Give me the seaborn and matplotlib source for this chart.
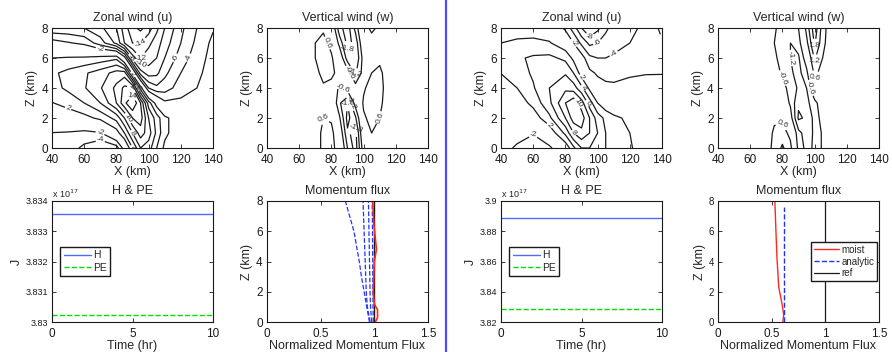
import numpy as np
import matplotlib
matplotlib.use('Agg')
import matplotlib.pyplot as plt
from matplotlib.lines import Line2D
from matplotlib.ticker import FuncFormatter
import seaborn as sns

# Rejillas (km)
x_u = [40, 50, 60, 70, 80, 85, 90, 95, 100, 105, 110, 120, 130, 140]
x_w = [40, 60, 70, 75, 80, 85, 90, 95, 100, 105, 110, 120, 140]
z_grid = [0, 1, 2, 3, 4, 5, 6, 7, 8]

# Viento zonal, caso izquierdo (filas z=0..8)
u_left = [
    [-2.5, -3.0, -4.5, -6.0, -5.0, -1.0, 4.0, 8.0, 7.0, 4.0, 1.5, 0.5, 0.0, -0.3],
    [-2.05, -2.2, -2.6, -2.2, 1.0, 4.0, 8.0, 11.0, 9.0, 5.5, 2.5, 0.5, 0.0, -0.3],
    [0.0, 0.6, 1.3, 2.5, 4.7, 8.0, 12.0, 13.0, 8.0, 5.0, 2.5, 0.5, -0.2, -0.5],
    [1.9, 2.8, 4.0, 6.0, 10.0, 13.5, 16.0, 12.0, 5.0, 1.0, -1.5, -1.5, -1.0, -0.3],
    [3.3, 4.4, 5.8, 7.8, 10.5, 12.5, 12.0, 3.0, -4.0, -5.5, -5.0, -3.0, -2.0, -0.5],
    [3.6, 4.6, 5.7, 7.0, 8.8, 9.0, 1.0, -7.0, -9.0, -8.5, -6.5, -4.0, -2.5, -1.0],
    [2.0, 2.2, 2.3, 2.8, 3.5, -1.0, -9.0, -12.0, -11.0, -10.0, -8.0, -5.0, -3.0, -1.2],
    [-1.0, -1.8, -2.5, -5.0, -8.5, -12.0, -14.0, -14.0, -12.5, -11.0, -9.0, -6.0, -3.5, -1.5],
    [-5.5, -5.5, -6.0, -7.5, -10.0, -13.0, -15.5, -16.5, -15.0, -12.5, -10.0, -6.5, -4.0, -2.2],
]

# Viento zonal, caso derecho
u_right = [
    [-1.5, -2.2, -2.8, -2.5, 0.5, 3.5, 6.0, 6.0, 5.0, 4.0, 3.0, 2.2, 1.0, 0.0],
    [-1.0, -1.5, -1.9, 0.5, 4.5, 8.0, 9.5, 8.0, 6.0, 4.0, 3.0, 2.0, 0.5, -0.2],
    [-0.5, -0.2, 0.8, 3.5, 8.0, 11.0, 11.0, 8.0, 5.0, 3.5, 2.5, 1.5, 0.3, -0.3],
    [0.0, 0.8, 2.6, 5.5, 10.0, 11.5, 9.0, 5.0, 2.0, 0.5, 0.0, -0.3, -0.5, -0.5],
    [1.0, 2.0, 3.8, 6.0, 7.5, 7.0, 4.5, 1.5, -1.0, -1.6, -1.7, -1.5, -1.2, -1.0],
    [2.05, 3.0, 4.3, 5.5, 5.8, 4.0, 1.0, -1.5, -2.3, -2.5, -2.5, -2.2, -2.1, -2.1],
    [3.0, 3.7, 4.3, 4.5, 3.5, 1.5, -1.0, -3.5, -4.0, -4.0, -3.8, -3.3, -2.7, -2.5],
    [2.0, 2.3, 2.5, 2.2, 0.5, -2.0, -4.5, -6.5, -6.0, -5.0, -4.5, -4.0, -3.0, -2.2],
    [1.0, 1.2, 1.0, 0.5, -2.5, -5.0, -8.0, -10.0, -8.5, -6.5, -5.0, -4.5, -3.5, -1.5],
]

# Viento vertical, caso izquierdo
w_left = [
    [0, 0.1, 0.4, 0.7, 0.8, 0.3, -1.2, -2.1, -0.2, 0.4, 0.3, 0.1, 0],
    [0, 0.1, 0.4, 0.7, 0.8, 0.0, -1.7, -2.0, 0.2, 0.6, 0.45, 0.1, 0],
    [0, 0.05, 0.3, 0.6, 0.5, -0.5, -2.0, -1.3, 0.5, 0.8, 0.6, 0.1, 0],
    [0, 0.05, 0.2, 0.5, 0.2, -1.1, -1.8, -0.3, 0.7, 0.9, 0.7, 0.1, 0],
    [0, 0.05, 0.2, 0.5, 0.3, -0.8, -0.3, -0.3, 0.5, 0.9, 0.75, 0.1, 0],
    [0, 0.1, 0.4, 0.8, 0.8, 0.3, -0.3, -1.3, -0.3, 0.6, 0.7, 0.1, 0],
    [0, 0.1, 0.6, 0.9, 0.7, 0.0, -1.5, -1.8, -0.3, 0.4, 0.5, 0.1, 0],
    [0, 0.1, 0.6, 0.8, 0.4, -0.8, -2.0, -1.6, 0.1, 0.4, 0.4, 0.1, 0],
    [0, 0.1, 0.3, 0.5, 0.1, -1.6, -2.1, -1.0, 0.4, 0.7, 0.5, 0.1, 0],
]

# Viento vertical, caso derecho
w_right = [
    [0, 0, 0.3, 0.8, 1.3, 0.8, -0.8, -1.4, -1.1, -0.5, 0, 0, 0],
    [0, 0, 0.3, 0.7, 0.9, 0.4, -1.0, -1.5, -1.1, -0.5, 0, 0, 0],
    [0, 0, 0.2, 0.5, 0.4, -0.3, -1.9, -1.7, -1.0, -0.3, 0, 0, 0],
    [0, 0, 0.1, 0.2, -0.1, -0.7, -1.7, -1.4, -0.8, -0.2, 0, 0, 0],
    [0, 0, 0, -0.1, -0.4, -0.8, -1.3, -1.2, 0.1, 0.0, 0, 0, 0],
    [0, 0, -0.1, -0.3, -0.7, -1.1, -1.4, -0.8, 0.8, 0.3, 0.0, 0, 0],
    [0, 0, -0.2, -0.5, -0.8, -1.2, -1.3, -0.2, 1.3, 0.6, 0.1, 0, 0],
    [0, 0, -0.3, -0.6, -0.9, -1.2, -0.9, 0.4, 1.9, 0.8, 0.2, 0, 0],
    [0, 0, -0.2, -0.5, -0.9, -1.1, -0.6, 0.8, 2.2, 0.9, 0.2, 0, 0],
]

u_levels = [-16, -14, -12, -10, -8, -6, -4, -2, 2, 4, 6, 8, 10, 12, 14, 16]
w_levels = [-2.4, -1.8, -1.2, -0.6, 0.6, 1.2, 1.8, 2.4]

# Energia (J) frente al tiempo
t_hr = [0, 10]
h_left = [3.83357e17, 3.83357e17]
pe_left = [3.83022e17, 3.83022e17]
h_right = [3.8889e17, 3.8889e17]
pe_right = [3.8289e17, 3.8289e17]

# Flujo de momento normalizado
z_prof = [0, 1, 2, 3, 4, 5, 6, 7, 8]
analytic_a = [0.955, 0.93, 0.905, 0.88, 0.86, 0.835, 0.81, 0.77, 0.73]
analytic_b = [0.96, 0.935, 0.925, 0.92, 0.915, 0.91, 0.905, 0.90, 0.895]
analytic_c = [0.975, 0.965, 0.96, 0.958, 0.955, 0.953, 0.95, 0.948, 0.945]
analytic_d = [0.99, 0.988, 0.987, 0.986, 0.985, 0.984, 0.983, 0.982, 0.98]
z_moist_l = [0, 0.3, 0.8, 1.2, 2, 3, 4, 4.8, 5.5, 6.5, 8]
moist_l = [1.01, 1.03, 1.03, 1.0, 0.99, 0.995, 1.0, 1.02, 1.01, 0.995, 0.985]
z_moist_r = [0, 0.5, 1.2, 2.3, 4.2, 6, 8]
moist_r = [0.605, 0.612, 0.597, 0.566, 0.55, 0.54, 0.53]
z_analytic_r = [0, 7.6]
analytic_r = [0.612, 0.612]
z_ref = [0, 8]
ref_flux = [1, 1]

sns.set_theme(style='ticks')
plt.rcParams['font.family'] = ['Liberation Sans', 'DejaVu Sans']
plt.rcParams['contour.negative_linestyle'] = 'solid'

fig = plt.figure(figsize=(8.92, 3.52), dpi=100)
lefts = [0.0583, 0.2993, 0.5617, 0.8049]
ancho = 0.1805


def estilo(ax, size=8.5):
    ax.tick_params(direction='in', top=True, right=True, length=3, width=0.6,
                   labelsize=size, colors='k')
    ax.tick_params(axis='x', pad=4)
    ax.tick_params(axis='y', pad=3)
    for s in ax.spines.values():
        s.set_linewidth(0.8)
        s.set_color('k')


def panel_contorno(left, campo, x, levels, titulo):
    ax = fig.add_axes([left, 0.5795, ancho, 0.3409])
    cs = ax.contour(x, z_grid, np.array(campo), levels=levels, colors='k', linewidths=0.9)
    ax.clabel(cs, fontsize=6, fmt='%g', inline=True, inline_spacing=1, colors='0.2')
    ax.set_xlim(40, 140)
    ax.set_ylim(0, 8)
    ax.set_xticks([40, 60, 80, 100, 120, 140])
    ax.set_yticks([0, 2, 4, 6, 8])
    ax.set_title(titulo, fontsize=9, pad=5)
    ax.set_xlabel('X (km)', fontsize=9, labelpad=0)
    ax.set_ylabel('Z (km)', fontsize=9, labelpad=2)
    estilo(ax)
    return ax


panel_contorno(lefts[0], u_left, x_u, u_levels, 'Zonal wind (u)')
panel_contorno(lefts[1], w_left, x_w, w_levels, 'Vertical wind (w)')
panel_contorno(lefts[2], u_right, x_u, u_levels, 'Zonal wind (u)')
panel_contorno(lefts[3], w_right, x_w, w_levels, 'Vertical wind (w)')

azul = '#4d6bff'
verde = '#00dd00'
rojo = '#ff2a1a'
azul_osc = '#2233ff'
fmt_g = FuncFormatter(lambda v, p: f'{v:g}')
fmt_e17 = FuncFormatter(lambda v, p: f'{v / 1e17:g}')


def panel_energia(left, h, pe, ylim, yticks):
    ax = fig.add_axes([left, 0.0852, ancho, 0.3438])
    sns.lineplot(x=t_hr, y=h, color=azul, lw=1.0, ax=ax, estimator=None, sort=False)
    sns.lineplot(x=t_hr, y=pe, color=verde, lw=1.0, linestyle='--', ax=ax,
                 estimator=None, sort=False)
    ax.set_xlim(0, 10)
    ax.set_ylim(*ylim)
    ax.set_xticks([0, 5, 10])
    ax.set_yticks(yticks)
    ax.yaxis.set_major_formatter(fmt_e17)
    ax.set_title('H & PE', fontsize=9, pad=5)
    ax.set_xlabel('Time (hr)', fontsize=9, labelpad=0)
    ax.set_ylabel('J', fontsize=9, labelpad=2)
    estilo(ax)
    ax.tick_params(axis='y', labelsize=6.5)
    ax.text(0.0, 1.01, r'x 10$^{17}$', transform=ax.transAxes, fontsize=6.5,
            ha='left', va='bottom')
    handles = [Line2D([], [], color=azul, lw=1.0),
               Line2D([], [], color=verde, lw=1.0, ls='--')]
    leg = ax.legend(handles, ['H', 'PE'], loc='center left', bbox_to_anchor=(0.02, 0.5),
                    fontsize=7.5, frameon=True, fancybox=False, framealpha=1,
                    edgecolor='k', handlelength=2.6, borderpad=0.3, labelspacing=0.2,
                    handletextpad=0.2)
    leg.get_frame().set_linewidth(1.0)
    return ax


panel_energia(lefts[0], h_left, pe_left, (3.830e17, 3.834e17),
              [3.830e17, 3.831e17, 3.832e17, 3.833e17, 3.834e17])
panel_energia(lefts[2], h_right, pe_right, (3.82e17, 3.90e17),
              [3.82e17, 3.84e17, 3.86e17, 3.88e17, 3.90e17])


def panel_flujo(left):
    ax = fig.add_axes([left, 0.0852, ancho, 0.3438])
    ax.set_xlim(0, 1.5)
    ax.set_ylim(0, 8)
    ax.set_xticks([0, 0.5, 1, 1.5])
    ax.set_yticks([0, 2, 4, 6, 8])
    ax.xaxis.set_major_formatter(fmt_g)
    ax.set_title('Momentum flux', fontsize=9, pad=5)
    ax.set_xlabel('Normalized Momentum Flux', fontsize=9, labelpad=0)
    ax.set_ylabel('Z (km)', fontsize=9, labelpad=2)
    estilo(ax)
    return ax


# Flujo de momento, caso izquierdo
ax = panel_flujo(lefts[1])
for perfil in [analytic_a, analytic_b, analytic_c, analytic_d]:
    sns.lineplot(x=perfil, y=z_prof, color=azul_osc, lw=0.9, linestyle='--', ax=ax,
                 estimator=None, sort=False)
sns.lineplot(x=ref_flux, y=z_ref, color='k', lw=1.0, ax=ax, estimator=None, sort=False)
sns.lineplot(x=moist_l, y=z_moist_l, color=rojo, lw=1.2, ax=ax, estimator=None, sort=False)

# Flujo de momento, caso derecho
ax = panel_flujo(lefts[3])
ax.tick_params(axis='y', labelsize=7)
sns.lineplot(x=moist_r, y=z_moist_r, color=rojo, lw=1.0, ax=ax, estimator=None, sort=False)
sns.lineplot(x=analytic_r, y=z_analytic_r, color=azul_osc, lw=1.0, linestyle='--', ax=ax,
             estimator=None, sort=False)
sns.lineplot(x=ref_flux, y=z_ref, color='k', lw=0.9, ax=ax, estimator=None, sort=False)
handles = [Line2D([], [], color=rojo, lw=1.0),
           Line2D([], [], color=azul_osc, lw=1.0, ls='--'),
           Line2D([], [], color='k', lw=0.9)]
leg = ax.legend(handles, ['moist', 'analytic', 'ref'], loc='center right',
                bbox_to_anchor=(1.0, 0.5), fontsize=7, frameon=True, fancybox=False,
                framealpha=1, edgecolor='k', handlelength=2.6, borderpad=0.3,
                labelspacing=0.2, handletextpad=0.2, borderaxespad=0.2)
leg.get_frame().set_linewidth(1.0)

# Linea azul que separa los dos casos
fig.add_artist(Line2D([446 / 892, 446 / 892], [0, 1], color='#4a4aff', lw=1.6,
                      transform=fig.transFigure))

fig.savefig('out.png', dpi=100)
plt.close(fig)
print("Figura guardada")
